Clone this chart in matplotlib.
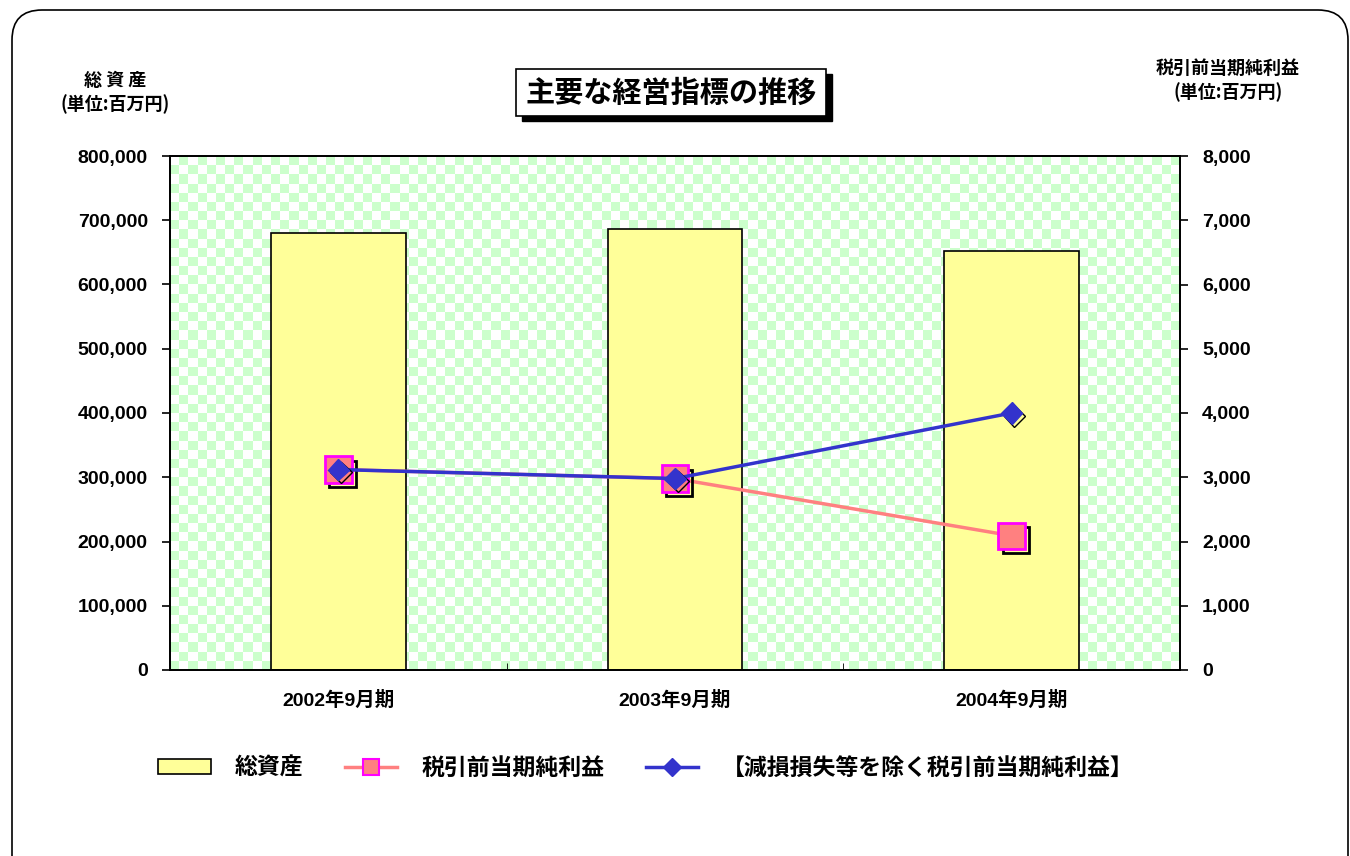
import numpy as np
import matplotlib.pyplot as plt
import matplotlib.patheffects as pe
from matplotlib.patches import FancyBboxPatch, Rectangle
from matplotlib.lines import Line2D
from matplotlib.patches import Patch
from matplotlib.transforms import IdentityTransform

plt.rcParams['font.family'] = ['Liberation Sans', 'Noto Sans CJK JP']
plt.rcParams['font.weight'] = 'bold'

periods = ['2002年9月期', '2003年9月期', '2004年9月期']
total_assets = [680000, 686000, 652000]
pretax_profit = [3120, 2980, 2090]
pretax_ex_impair = [3120, 2980, 4000]

W, H = 1350, 856
fig = plt.figure(figsize=(13.5, 8.56), dpi=100)
ax = fig.add_axes([170/W, 1-670/H, 1010/W, 514/H])
ax2 = ax.twinx()

x = np.arange(len(periods))

# checker background
nx, ny = 110, 56
checker = (np.add.outer(np.arange(ny), np.arange(nx)) % 2)
cmap = plt.matplotlib.colors.ListedColormap(['white', '#ccffcc'])
ax.imshow(checker, cmap=cmap, extent=[-0.5, 2.5, 0, 800000], aspect='auto',
          interpolation='nearest', zorder=0)

ax.bar(x, total_assets, width=0.4, color='#ffff99', edgecolor='black', linewidth=1.2, zorder=2)
ax.set_xlim(-0.5, 2.5)
ax.set_ylim(0, 800000)
ax.set_yticks(np.arange(0, 800001, 100000))
ax.yaxis.set_major_formatter(plt.FuncFormatter(lambda v, p: f'{int(v):,}'))
ax.set_xticks(x)
ax.set_xticklabels(periods, fontsize=14)
ax.set_xticks([0.5, 1.5], minor=True)
ax.tick_params(axis='x', which='major', length=0, pad=15)
ax.tick_params(axis='x', which='minor', length=5, direction='in')
ax.tick_params(axis='y', labelsize=14, length=6, width=1.2, direction='out', pad=10)

ax2.set_ylim(0, 8000)
ax2.set_yticks(np.arange(0, 8001, 1000))
ax2.yaxis.set_major_formatter(plt.FuncFormatter(lambda v, p: f'{int(v):,}'))
ax2.tick_params(axis='y', labelsize=14, length=6, width=1.2, direction='out', pad=10)

for a in (ax, ax2):
    for s in a.spines.values():
        s.set_linewidth(1.3)

ax2.plot(x, pretax_profit, color='#ff8080', linewidth=2.5, zorder=3)
ax2.plot(x, pretax_profit, linestyle='none', marker='s', markersize=19,
         markerfacecolor='#ff8080', markeredgecolor='#ff00ff', markeredgewidth=2,
         zorder=4, path_effects=[pe.SimpleLineShadow(offset=(3, -3), shadow_color='black', alpha=1.0), pe.Normal()])
ax2.plot(x, pretax_ex_impair, color='#3333cc', linewidth=2.5, zorder=5)
ax2.plot(x, pretax_ex_impair, linestyle='none', marker='D', markersize=11,
         markerfacecolor='#3333cc', markeredgecolor='#3333cc',
         zorder=6, path_effects=[pe.SimpleLineShadow(offset=(2, -2), shadow_color='black', alpha=1.0), pe.Normal()])

jp = ['Noto Sans CJK JP']
# axis captions
fig.text(115/W, 1-80/H, '総 資 産', ha='center', va='center', fontsize=13, family=jp, weight='bold')
fig.text(115/W, 1-104/H, '(単位:百万円)', ha='center', va='center', fontsize=13, family=jp, weight='bold')
fig.text(1228/W, 1-68/H, '税引前当期純利益', ha='center', va='center', fontsize=13, family=jp, weight='bold')
fig.text(1228/W, 1-92/H, '(単位:百万円)', ha='center', va='center', fontsize=13, family=jp, weight='bold')

# title with shadowed box
fig.patches.append(Rectangle((522/W, 1-121/H), 310/W, 47/H, transform=fig.transFigure,
                             facecolor='black', edgecolor='black'))
fig.patches.append(Rectangle((516/W, 1-116/H), 310/W, 47/H, transform=fig.transFigure,
                             facecolor='white', edgecolor='black', linewidth=1.2))
fig.text(671/W, 1-93/H, '主要な経営指標の推移', ha='center', va='center',
         fontsize=21, family=jp, weight='bold')

# legend
handles = [
    Patch(facecolor='#ffff99', edgecolor='black', linewidth=1.2),
    Line2D([], [], color='#ff8080', linewidth=2.5, marker='s', markersize=12,
           markerfacecolor='#ff8080', markeredgecolor='#ff00ff', markeredgewidth=1.5),
    Line2D([], [], color='#3333cc', linewidth=2.5, marker='D', markersize=9,
           markerfacecolor='#3333cc', markeredgecolor='#3333cc'),
]
labels = ['総資産', '税引前当期純利益', '【減損損失等を除く税引前当期純利益】']
fig.legend(handles, labels, loc='center', bbox_to_anchor=(646/W, 1-768/H), ncol=3,
           frameon=False, prop={'family': jp, 'weight': 'bold', 'size': 16.5},
           handlelength=2.3, handleheight=0.6, columnspacing=1.8, handletextpad=1.05)

# outer rounded border (pixel coordinates)
border = FancyBboxPatch((12, -30), 1336, 876, boxstyle='round,pad=0,rounding_size=30',
                        transform=IdentityTransform(), facecolor='none', edgecolor='black',
                        linewidth=1.2)
fig.patches.append(border)

fig.savefig('out.png', dpi=100)
